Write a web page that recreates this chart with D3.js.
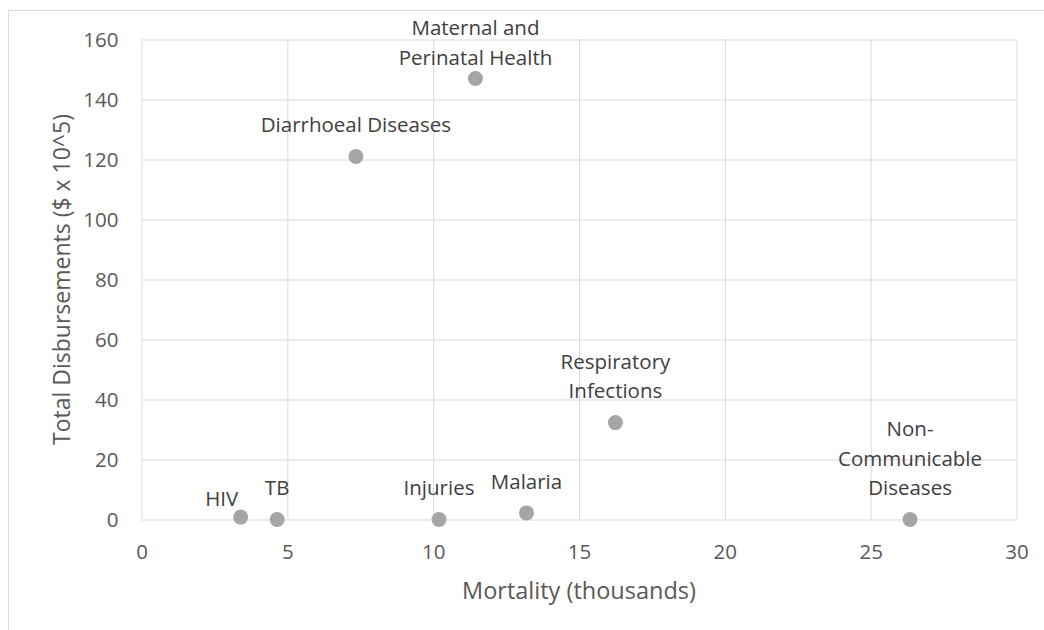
<!DOCTYPE html>
<html><head><meta charset="utf-8">
<script src="https://cdn.jsdelivr.net/npm/d3@7"></script>
<style>body{margin:0;background:#fff} svg{display:block}</style>
</head><body><svg id="c" width="1044" height="630"></svg>
<script>
const categories = ["HIV","TB","Injuries","Malaria","Diarrhoeal Diseases","Maternal and Perinatal Health","Respiratory Infections","Non-Communicable Diseases"];
const mortality = [3.4, 4.65, 10.2, 13.2, 7.35, 11.45, 16.25, 26.35];
const disbursements = [0.8, 0, 0, 2.2, 121, 147, 32.3, 0];
const labelLines = [["HIV"],["TB"],["Injuries"],["Malaria"],["Diarrhoeal Diseases"],["Maternal and","Perinatal Health"],["Respiratory","Infections"],["Non-","Communicable","Diseases"]];
const xTicks = [0, 5, 10, 15, 20, 25, 30];
const yTicks = [0, 20, 40, 60, 80, 100, 120, 140, 160];
const xTitle = "Mortality (thousands)";
const yTitle = "Total Disbursements ($ x 10^5)";

// label placement tweaks (layout, not data)
const labelNudge = {"HIV": {dx: -19, dy: 13}, "Maternal and Perinatal Health": {dx: 0, dy: 10.5}};

const FONT = "'Open Sans', sans-serif";
const svg = d3.select("#c");
const L = 141.5, R = 1016.5, T = 39.5, B = 519.5;

svg.append("rect").attr("x", 8.5).attr("y", 10.5).attr("width", 1100).attr("height", 700)
  .attr("fill", "none").attr("stroke", "#d9d9d9").attr("stroke-width", 1);

const x = d3.scaleLinear().domain([0, 30]).range([L, R]);
const y = d3.scaleLinear().domain([0, 160]).range([B, T]);

// gridlines
const gx = svg.append("g").attr("transform", `translate(0,${B})`)
  .call(d3.axisBottom(x).tickValues(xTicks).tickSize(-(B - T)).tickFormat(""));
const gy = svg.append("g").attr("transform", `translate(${L},0)`)
  .call(d3.axisLeft(y).tickValues(yTicks).tickSize(-(R - L)).tickFormat(""));
[gx, gy].forEach(g => {
  g.select(".domain").remove();
  g.selectAll("line").attr("stroke", "#d9d9d9").attr("stroke-width", 1);
});

// tick labels
const ax = svg.append("g").attr("transform", `translate(0,${B})`)
  .call(d3.axisBottom(x).tickValues(xTicks).tickSize(0).tickPadding(0).tickFormat(d3.format("d")));
ax.select(".domain").remove();
ax.selectAll("text").attr("y", 32).attr("dy", "0.35em");
const ay = svg.append("g").attr("transform", `translate(${L},0)`)
  .call(d3.axisLeft(y).tickValues(yTicks).tickSize(0).tickPadding(0).tickFormat(d3.format("d")));
ay.select(".domain").remove();
ay.selectAll("text").attr("x", -23).attr("dy", "0.35em");
[ax, ay].forEach(g => g.selectAll("text").attr("fill", "#595959").style("font-family", FONT).style("font-size", "20.5px"));

// axis titles
svg.append("text").attr("x", (L + R) / 2).attr("y", 591).attr("dy", "0.35em")
  .attr("text-anchor", "middle").attr("fill", "#595959")
  .style("font-family", FONT).style("font-size", "23.5px").text(xTitle);
svg.append("text").attr("transform", `translate(62,${(T + B) / 2}) rotate(-90)`).attr("dy", "0.35em")
  .attr("text-anchor", "middle").attr("fill", "#595959")
  .style("font-family", FONT).style("font-size", "23px").text(yTitle);

const data = categories.map((c, i) => ({name: c, mx: mortality[i], dv: disbursements[i], lines: labelLines[i]}));

// points
svg.append("g").selectAll("circle").data(data).join("circle")
  .attr("cx", d => x(d.mx)).attr("cy", d => y(d.dv)).attr("r", 7.5).attr("fill", "#a5a5a5");

// labels
const LH = 29.5, OFF = 31.5;
const lg = svg.append("g");
data.forEach(d => {
  const n = labelNudge[d.name] || {dx: 0, dy: 0};
  const cx = x(d.mx) + n.dx;
  const lastY = y(d.dv) - OFF + n.dy;
  const t = lg.append("text").attr("text-anchor", "middle").attr("fill", "#404040")
    .style("font-family", FONT).style("font-size", "20.5px");
  d.lines.forEach((ln, k) => {
    t.append("tspan").attr("x", cx).attr("y", lastY - (d.lines.length - 1 - k) * LH).attr("dy", "0.35em").text(ln);
  });
});
</script></body></html>
